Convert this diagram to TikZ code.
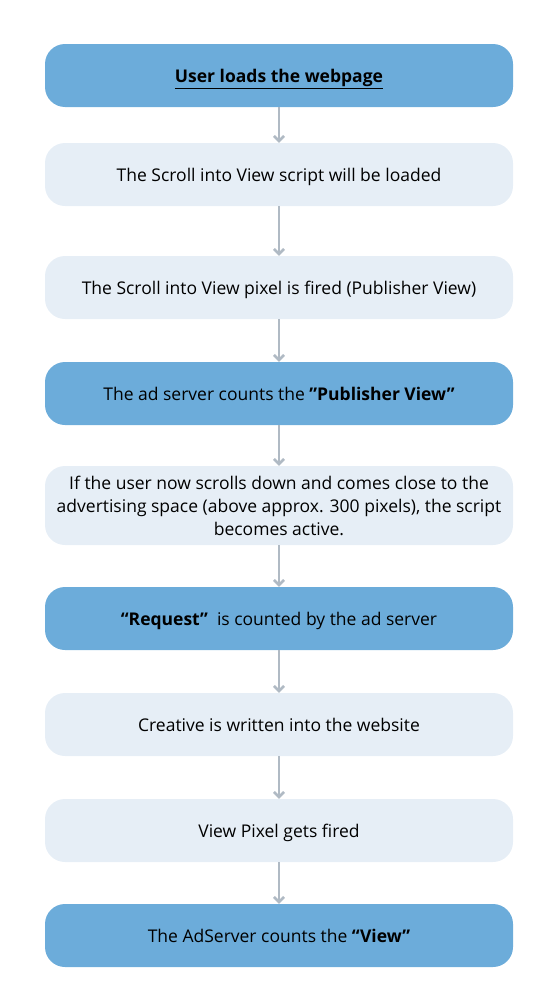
\documentclass[tikz,border=0pt]{standalone}
\usepackage{fontspec}
\setmainfont{Open Sans}
\usepackage{xcolor}
\usetikzlibrary{arrows.meta}

\definecolor{stepdark}{HTML}{6CACDA}
\definecolor{steplight}{HTML}{E6EEF6}
\definecolor{flowgray}{HTML}{B0BAC4}

\begin{document}
\begin{tikzpicture}[x=1pt, y=1pt,
    every node/.style = {shape=rectangle, rounded corners=20pt,
      align=center, minimum width=468pt, minimum height=63pt,
      font=\fontsize{17.5}{23}\selectfont, text=black, text depth=0pt},
    darkbox/.style = {fill=stepdark},
    lightbox/.style = {fill=steplight},
    flow/.style = {draw=flowgray, line width=2.6pt,
      -{Straight Barb[length=5pt, width=10pt, line width=2.6pt]}}]
    \useasboundingbox (0,0) rectangle (557,-993);
    \node[darkbox]  (load)    at (279,-75.5)  {\underline{\textbf{User loads the webpage}}};
    \node[lightbox] (script)  at (279,-174.5) {The Scroll into View script will be loaded};
    \node[lightbox] (pixel)   at (279,-287.5) {The Scroll into View pixel is fired (Publisher View)};
    \node[darkbox]  (pubview) at (279,-393.5) {The ad server counts the \textbf{”Publisher View”}};
    \node[lightbox, minimum height=79pt, text depth={}] (scroll) at (279,-505.5)
        {If the user now scrolls down and comes close to the\\
         advertising space (above approx. 300 pixels), the script\\
         becomes active.};
    \node[darkbox]  (request) at (279,-618.5) {\textbf{“Request”}\ \ is counted by the ad server};
    \node[lightbox] (creative) at (279,-724.5) {Creative is written into the website};
    \node[lightbox] (fired)   at (279,-830.5) {View Pixel gets fired};
    \node[darkbox]  (count)   at (279,-935.5) {The AdServer counts the \textbf{“View”}};
    \foreach \a/\b in {load/script, script/pixel, pixel/pubview, pubview/scroll,
        scroll/request, request/creative, creative/fired, fired/count}
      \draw[flow] (\a) -- (\b);
\end{tikzpicture}
\end{document}
